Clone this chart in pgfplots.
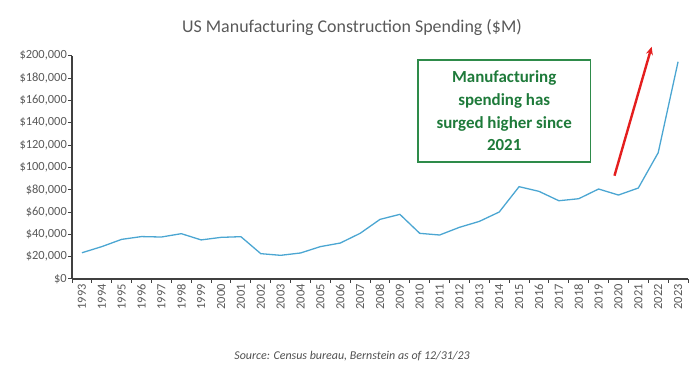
\documentclass[border=0pt]{standalone}
\usepackage{pgfplots}
\pgfplotsset{compat=1.18}
\usepackage{fontspec}
\setmainfont{Carlito}
\usetikzlibrary{arrows.meta}
\definecolor{labgray}{HTML}{595959}
\definecolor{linblue}{HTML}{4BA6D2}
\definecolor{boxgreen}{HTML}{2E8B4A}
\definecolor{txtgreen}{HTML}{1E7A3A}
\definecolor{arrred}{HTML}{E41E1E}
\definecolor{axgray}{HTML}{404040}
\pgfplotstableread{
x y
0 23500
1 29000
2 35500
3 38000
4 37600
5 40600
6 35000
7 37300
8 37900
9 22700
10 21200
11 23300
12 29000
13 32200
14 40900
15 53400
16 57900
17 40900
18 39400
19 46300
20 51600
21 60000
22 82700
23 78500
24 70100
25 71900
26 80600
27 75200
28 81500
29 113100
30 194600
}\spend
\begin{document}
\begin{tikzpicture}
\useasboundingbox (0,0) rectangle (699bp,374bp);
\node[font=\fontsize{18}{21}\selectfont, text=labgray] at (352bp,347bp) {US Manufacturing Construction Spending (\$M)};
\node[font=\itshape\fontsize{12}{14}\selectfont, text=labgray!90!black] at (352bp,18bp) {Source: Census bureau, Bernstein as of 12/31/23};
\begin{axis}[
  at={(72bp,95bp)}, anchor=south west,
  scale only axis, width=616bp, height=223.3bp,
  xmin=-0.5, xmax=30.5, ymin=0, ymax=200000,
  clip=false,
  axis x line=bottom, axis y line=left,
  axis line style={-, axgray, line width=1.2bp},
  xtick={0,...,30},
  xticklabels={1993,1994,1995,1996,1997,1998,1999,2000,2001,2002,2003,2004,2005,2006,2007,2008,2009,2010,2011,2012,2013,2014,2015,2016,2017,2018,2019,2020,2021,2022,2023},
  x tick label style={rotate=90, anchor=east, font=\fontsize{12.5}{14}\selectfont, text=labgray, inner sep=1bp},
  xtick style={draw=none},
  extra x ticks={-0.5,0.5,...,30.5},
  extra x tick labels={},
  extra x tick style={xtick style={draw=axgray, line width=1bp}, major tick length=4bp, tick align=outside},
  ytick={0,20000,...,200000},
  yticklabels={{\$0},{\$20,000},{\$40,000},{\$60,000},{\$80,000},{\$100,000},{\$120,000},{\$140,000},{\$160,000},{\$180,000},{\$200,000}},
  y tick label style={font=\fontsize{12.5}{14}\selectfont, text=labgray, inner sep=1bp},
  ytick style={draw=axgray, line width=1bp},
  tick align=outside, major tick length=4bp,
  scaled y ticks=false,
]
\addplot[linblue, line width=1.3bp, mark=none] table[x=x,y=y] {\spend};
\draw[boxgreen, line width=1.6bp] (axis cs:16.9,196000) rectangle (axis cs:25.6,105000);
\node[align=center, text=txtgreen, font=\bfseries\fontsize{17}{22.7}\selectfont] at (axis cs:21.25,150500) {Manufacturing\\spending has\\surged higher since\\2021};
\draw[arrred, line width=2.4bp, -{Stealth[length=8bp,width=7bp]}] (axis cs:26.8,92500) -- (axis cs:28.67,208000);
\end{axis}
\end{tikzpicture}
\end{document}
